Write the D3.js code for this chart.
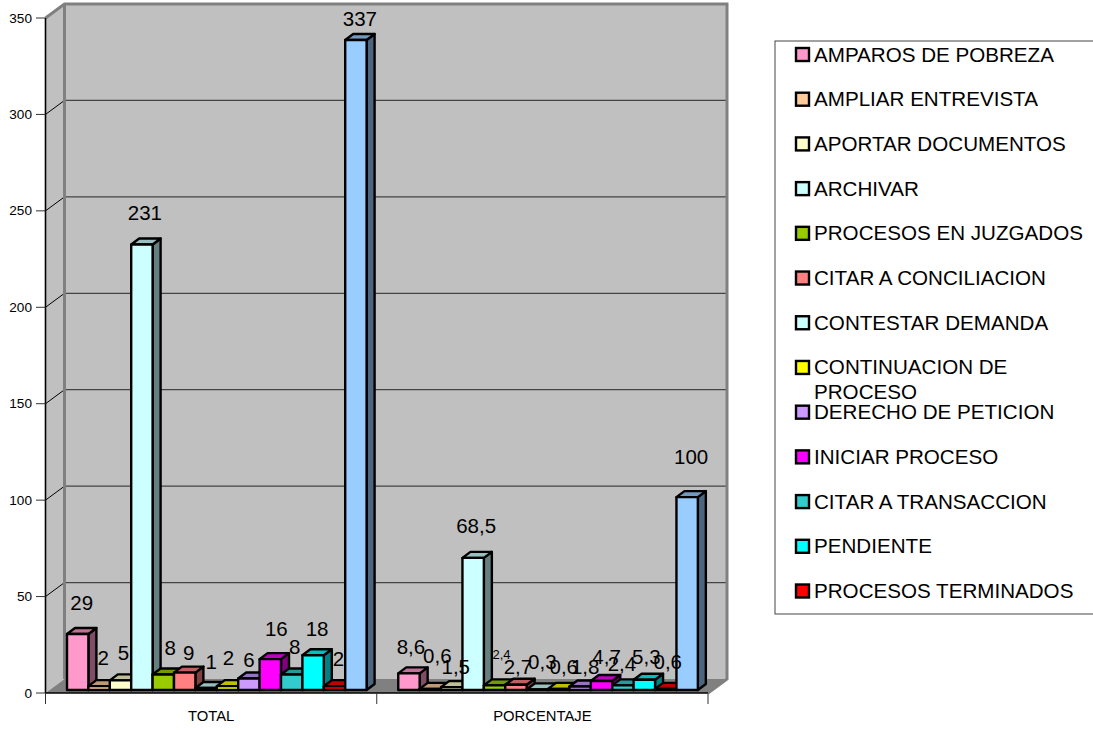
<!DOCTYPE html>
<html><head><meta charset="utf-8">
<script src="https://cdn.jsdelivr.net/npm/d3@7/dist/d3.min.js"></script>
<style>html,body{margin:0;padding:0;background:#fff}svg{display:block}text{font-family:"Liberation Sans",Arial,sans-serif;fill:#000}</style>
</head><body><svg id="c" width="1093" height="730"></svg>
<script>
const groups = ["TOTAL","PORCENTAJE"];
const categories = ["AMPAROS DE POBREZA","AMPLIAR ENTREVISTA","APORTAR DOCUMENTOS","ARCHIVAR","PROCESOS EN JUZGADOS","CITAR A CONCILIACION","CONTESTAR DEMANDA","CONTINUACION DE PROCESO","DERECHO DE PETICION","INICIAR PROCESO","CITAR A TRANSACCION","PENDIENTE","PROCESOS TERMINADOS","TOTAL"];
const totalValues = [29,2,5,231,8,9,1,2,6,16,8,18,2,337];
const percentValues = [8.6,0.6,1.5,68.5,2.4,2.7,0.3,0.6,1.8,4.7,2.4,5.3,0.6,100];
const totalLabels = ["29","2","5","231","8","9","1","2","6","16","8","18","2","337"];
const percentLabels = ["8,6","0,6","1,5","68,5","2,4","2,7","0,3","0,6","1,8","4,7","2,4","5,3","0,6","100"];
const colors = ["#FF99CC","#FFCC99","#FFFFCC","#CCFFFF","#99CC00","#FF8080","#CCFFFF","#FFFF00","#CC99FF","#FF00FF","#33CCCC","#00FFFF","#FF0000","#99CCFF"];
const yTicks = [0,50,100,150,200,250,300,350];
// hand-placed label nudges seen in the reference (px)
const nudgeX = [[0,0,-1,-1,3,0,1,-3,-4,2,-1,0,0,0],[-2,3,0,-1,3,-2,1,1,1,1,-5,-2,-2,0]];
const lift = [[31,28,27,32,27,20,26,28,18,30,28,26,27,21],[26,33,20,32,31,18,27,22,20,24,21,23,27,40]];

const svg = d3.select("#c");
const X0=45.5, X1=708, Y0=693, Y350=18, DX=19, DY=14, BX=8, BY=6, LIFT=3;
const y = d3.scaleLinear().domain([0,350]).range([Y0,Y350]);
const gx = d3.scaleBand().domain(groups).range([X0,X1]);
const sx = d3.scaleBand().domain(d3.range(categories.length)).range([21.5,21.5+21.4*14]);

// walls
svg.append("polygon").attr("points",`${X0},${Y350} ${X0+DX},${Y350-DY} ${X0+DX},${Y0-DY} ${X0},${Y0}`).attr("fill","#C0C0C0");
svg.append("rect").attr("x",X0+DX).attr("y",Y350-DY).attr("width",X1-X0).attr("height",Y0-Y350).attr("fill","#C0C0C0");
svg.append("polygon").attr("points",`${X0},${Y0} ${X0+DX},${Y0-DY} ${X1+DX},${Y0-DY} ${X1},${Y0}`).attr("fill","#808080");
// grid
yTicks.slice(1,-1).forEach(t=>{
  svg.append("line").attr("x1",X0+DX).attr("x2",X1+DX).attr("y1",y(t)-DY).attr("y2",y(t)-DY).attr("stroke","#444").attr("stroke-width",1.2);
  svg.append("line").attr("x1",X0).attr("x2",X0+DX).attr("y1",y(t)).attr("y2",y(t)-DY).attr("stroke","#000").attr("stroke-width",1);
});
// wall edges
svg.append("path").attr("d",`M${X0},${Y350}L${X0+DX},${Y350-DY}L${X1+DX},${Y350-DY}L${X1+DX},${Y0-DY}L${X1},${Y0}`).attr("fill","none").attr("stroke","#808080").attr("stroke-width",3);
svg.append("line").attr("x1",X0+DX).attr("x2",X0+DX).attr("y1",Y350-DY).attr("y2",Y0-DY).attr("stroke","#808080").attr("stroke-width",3);

// axes
const yAxis = svg.append("g");
yAxis.append("line").attr("x1",X0).attr("x2",X0).attr("y1",Y350).attr("y2",Y0).attr("stroke","#000").attr("stroke-width",1.6);
yTicks.forEach(t=>{
  yAxis.append("line").attr("x1",36).attr("x2",X0).attr("y1",y(t)).attr("y2",y(t)).attr("stroke","#333").attr("stroke-width",1);
  yAxis.append("text").attr("x",32).attr("y",y(t)+4.5).attr("text-anchor","end").attr("font-size",13.6).text(t);
});
svg.append("line").attr("x1",X0).attr("x2",X1).attr("y1",Y0).attr("y2",Y0).attr("stroke","#000").attr("stroke-width",1.6);
[X0,gx("PORCENTAJE"),X1].forEach(v=>svg.append("line").attr("x1",v).attr("x2",v).attr("y1",Y0).attr("y2",704).attr("stroke","#333").attr("stroke-width",1));
groups.forEach(g=>svg.append("text").attr("x",gx(g)+gx.bandwidth()/2).attr("y",721).attr("text-anchor","middle").attr("font-size",14.8).text(g));

// bars
const shade=(c,k)=>{const r=d3.rgb(c);return d3.rgb(r.r*k,r.g*k,r.b*k).formatHex();};
[totalValues,percentValues].forEach((vals,gi)=>{
  const g = svg.append("g");
  vals.forEach((v,i)=>{
    const x=gx(groups[gi])+sx(i), w=sx.bandwidth(), t=y(v)-LIFT, b=Y0-LIFT;
    const s=g.append("g").attr("stroke","#000").attr("stroke-width",2.4).attr("stroke-linejoin","round");
    s.append("polygon").attr("points",`${x+w},${t} ${x+w+BX},${t-BY} ${x+w+BX},${b-BY} ${x+w},${b}`).attr("fill",shade(colors[i],0.5));
    s.append("polygon").attr("points",`${x},${t} ${x+BX},${t-BY} ${x+w+BX},${t-BY} ${x+w},${t}`).attr("fill",shade(colors[i],0.75));
    s.append("rect").attr("x",x).attr("y",t).attr("width",w).attr("height",b-t).attr("fill",colors[i]);
  });
});
// labels
[totalLabels,percentLabels].forEach((labs,gi)=>{
  const vals = gi?percentValues:totalValues;
  labs.forEach((l,i)=>{
    const small = gi===1&&i===4;
    svg.append("text").attr("x",gx(groups[gi])+sx(i)+sx.bandwidth()/2+4+nudgeX[gi][i])
      .attr("y",y(vals[i])-3-lift[gi][i]+(small?4.5:7)).attr("text-anchor","middle")
      .attr("font-size",small?13:20.5).text(l);
  });
});

// legend
const lg = svg.append("g");
lg.append("rect").attr("x",775).attr("y",41).attr("width",330).attr("height",573).attr("fill","#fff").attr("stroke","#444").attr("stroke-width",1);
const ly = d3.scalePoint().domain(d3.range(13)).range([54.5,591]);
categories.slice(0,13).forEach((c,i)=>{
  lg.append("rect").attr("x",796).attr("y",ly(i)-6.5).attr("width",13).attr("height",13).attr("fill",colors[i]).attr("stroke","#000").attr("stroke-width",2.4);
  if(c==="CONTINUACION DE PROCESO"){
    lg.append("text").attr("x",814).attr("y",ly(i)+7).attr("font-size",20.6).text("CONTINUACION DE");
    lg.append("text").attr("x",814).attr("y",ly(i)+32).attr("font-size",20.6).text("PROCESO");
  } else lg.append("text").attr("x",814).attr("y",ly(i)+7).attr("font-size",20.6).text(c);
});
</script></body></html>
